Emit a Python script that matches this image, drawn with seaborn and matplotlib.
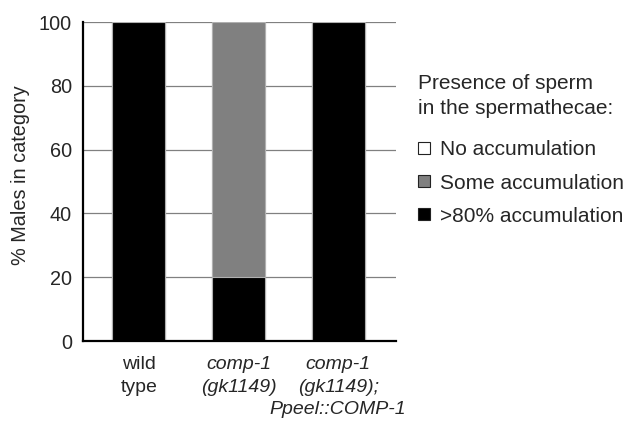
import matplotlib
matplotlib.use("Agg")
import matplotlib.pyplot as plt
from matplotlib.lines import Line2D
import seaborn as sns
import pandas as pd

categories = ["wild\ntype", "comp-1\n(gk1149)", "comp-1\n(gk1149);\nPpeel::COMP-1"]
no_accumulation = [0, 0, 0]
some_accumulation = [0, 80, 0]
high_accumulation = [100, 20, 100]
series_labels = ["No accumulation", "Some accumulation", ">80% accumulation"]
series_colors = ["#ffffff", "#808080", "#000000"]
yticks = [0, 20, 40, 60, 80, 100]
legend_title = "Presence of sperm\nin the spermathecae:"

sns.set_style("white")
plt.rcParams["font.family"] = ["Liberation Sans", "DejaVu Sans"]

df = pd.DataFrame({
    "cat": categories,
    "high": high_accumulation,
    "some_cum": [h + s for h, s in zip(high_accumulation, some_accumulation)],
    "all_cum": [h + s + n for h, s, n in zip(high_accumulation, some_accumulation, no_accumulation)],
})

fig = plt.figure(figsize=(6.29, 4.21), dpi=100)
ax = fig.add_axes([0.132, 0.19, 0.4976, 0.7577])

for col, color in zip(["all_cum", "some_cum", "high"], series_colors):
    sns.barplot(data=df, x="cat", y=col, color=color, ax=ax, width=0.53,
                edgecolor="#b0b0b0", linewidth=0.8, zorder=3)

ax.set_xlim(-0.56, 2.58)
ax.set_ylim(0, 100)
ax.set_yticks(yticks)
ax.set_yticklabels([str(v) for v in yticks], fontsize=14.3)
ax.yaxis.grid(True, color="#808080", linewidth=0.9, zorder=0)
ax.set_axisbelow(True)
for s in ["top", "right"]:
    ax.spines[s].set_visible(False)
for s in ["left", "bottom"]:
    ax.spines[s].set_color("black")
    ax.spines[s].set_linewidth(1.6)
    ax.spines[s].set_zorder(5)
ax.tick_params(axis="y", direction="out", length=5, width=1.6, color="black", pad=3)
ax.tick_params(axis="x", length=0, pad=11)
ax.set_xlabel("")
ax.set_ylabel("% Males in category", fontsize=14.3)
ax.yaxis.set_label_coords(-0.17, 0.52)

ax.set_xticks(range(len(categories)))
ax.set_xticklabels(categories, fontsize=14, linespacing=1.43)
for i, lab in enumerate(ax.get_xticklabels()):
    if i > 0:
        lab.set_fontstyle("italic")

fig.text(418 / 629, 1 - 96 / 421, legend_title, fontsize=15, ha="left", va="center",
         linespacing=1.4)

handles = [Line2D([0], [0], marker="s", linestyle="", markersize=8.6,
                  markerfacecolor=c, markeredgecolor="#222222", markeredgewidth=0.8)
           for c in series_colors]
leg = fig.legend(handles, series_labels,
                 loc="center left", bbox_to_anchor=(418 / 629, 1 - 183 / 421),
                 frameon=False, fontsize=15,
                 handlelength=0.62, handletextpad=0.43, labelspacing=0.68,
                 borderaxespad=0, borderpad=0)

fig.savefig("out.png", dpi=100)
